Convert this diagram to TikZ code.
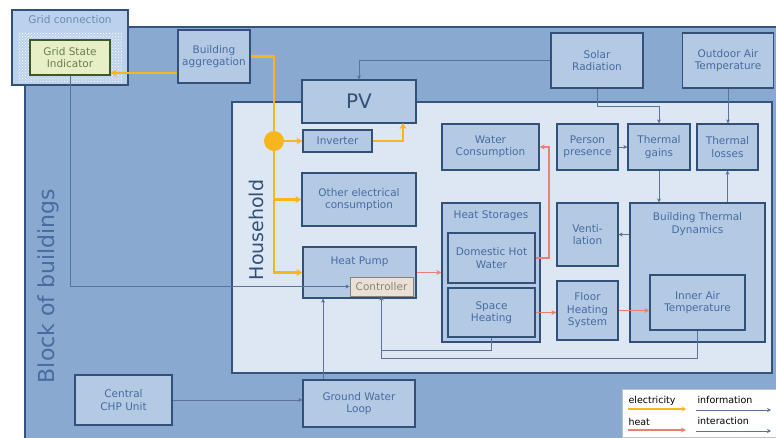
\documentclass[tikz,border=0pt]{standalone}
\usepackage{fontspec}
\setmainfont{DejaVu Sans}
\usetikzlibrary{arrows.meta,patterns}

\begin{document}
\begin{tikzpicture}[x=1pt, y=-1pt,
		every node/.style={font=\fontsize{10.5}{12.5}\selectfont, text=boxtext, align=center},
		blk/.style={draw=boxline, fill=boxfill, line width=1.3pt, inner sep=1pt},
		elec/.style={draw=elecline, line width=2.4pt, -{Stealth[length=6pt,width=7pt]}},
		heat/.style={draw=heatline, line width=1.3pt, -{Stealth[length=5pt,width=5pt]}},
		info/.style={draw=infoline, line width=0.8pt, -{Stealth[length=4pt,width=4pt,fill=infotip]}}]
		% Define colors
		\definecolor{blockfill}{RGB}{138, 169, 209}
		\definecolor{blockline}{RGB}{52, 84, 128}
		\definecolor{housefill}{RGB}{221, 231, 243}
		\definecolor{boxfill}{RGB}{180, 201, 228}
		\definecolor{boxline}{RGB}{50, 80, 120}
		\definecolor{boxtext}{RGB}{70, 108, 160}
		\definecolor{gridfill}{RGB}{188, 210, 236}
		\definecolor{gsifill}{RGB}{230, 239, 198}
		\definecolor{gsiline}{RGB}{60, 88, 44}
		\definecolor{gsitext}{RGB}{110, 124, 80}
		\definecolor{ctrlfill}{RGB}{233, 224, 214}
		\definecolor{ctrltext}{RGB}{140, 130, 122}
		\definecolor{elecline}{RGB}{247, 182, 30}
		\definecolor{heatline}{RGB}{232, 128, 118}
		\definecolor{infoline}{RGB}{90, 115, 150}
		\definecolor{infotip}{RGB}{45, 60, 80}
		
		\useasboundingbox (0,0) rectangle (776,437);
		
		% ===== BACKGROUND AREAS =====
		% Block of buildings
		\draw[fill=blockfill, draw=blockline, line width=1.2pt] (25, 27) rectangle (780, 440);
		\node[rotate=90, font=\fontsize{22}{25}\selectfont] (blocklbl) at (48, 286) {Block of buildings};
		
		% Household
		\draw[fill=housefill, draw=blockline, line width=1.2pt] (232, 102) rectangle (772, 373);
		\node[rotate=90, font=\fontsize{19}{22}\selectfont, text=boxline] (houselbl) at (256, 230) {Household};
		
		% Grid connection
		\draw[fill=gridfill, draw=boxline, line width=1.6pt] (12, 10) rectangle (128, 85);
		\node[text=boxtext!80] (gridlbl) at (70, 20) {Grid connection};
		\fill[pattern=crosshatch dots, pattern color=white] (18, 32) rectangle (122, 81);
		\node[draw=gsiline, fill=gsifill, line width=1.3pt, text=gsitext, minimum width=80pt, minimum height=35pt, inner sep=1pt] (gsi) at (70, 57.5) {Grid State\\Indicator};
		
		% ===== BOXES =====
		\node[blk, minimum width=72pt, minimum height=53pt] (aggr) at (214, 56.5) {Building\\aggregation};
		\node[blk, minimum width=92pt, minimum height=55pt] (solar) at (597, 60.5) {Solar\\Radiation};
		\node[blk, minimum width=91pt, minimum height=55pt] (outdoor) at (728, 60.5) {Outdoor Air\\Temperature};
		
		\node[blk, minimum width=114pt, minimum height=43pt, font=\fontsize{20}{22}\selectfont, text=boxline] (pv) at (359, 101.5) {PV};
		\node[blk, minimum width=69pt, minimum height=22pt] (inv) at (337.5, 141) {Inverter};
		\node[blk, minimum width=114pt, minimum height=53pt] (other) at (359, 199.5) {Other electrical\\consumption};
		\node[blk, minimum width=113pt, minimum height=51pt, label={[anchor=north, yshift=-7pt]north:Heat Pump}] (hp) at (359.5, 272.5) {};
		\node[draw=ctrltext, fill=ctrlfill, line width=0.8pt, text=ctrltext, minimum width=63pt, minimum height=19pt, inner sep=0pt] (ctrl) at (381.5, 286.5) {Controller};
		
		\node[blk, minimum width=97pt, minimum height=46pt] (water) at (490.5, 147) {Water\\Consumption};
		\node[blk, minimum width=61pt, minimum height=46pt] (person) at (587.5, 147) {Person\\presence};
		\node[blk, minimum width=62pt, minimum height=46pt] (gains) at (659, 147) {Thermal\\gains};
		\node[blk, minimum width=61pt, minimum height=46pt] (losses) at (727.5, 147) {Thermal\\losses};
		
		\node[blk, minimum width=98pt, minimum height=139pt, label={[anchor=north, yshift=-5pt]north:Heat Storages}] (storage) at (491, 272.5) {};
		\node[blk, minimum width=87pt, minimum height=50pt] (dhw) at (491.5, 258) {Domestic Hot\\Water};
		\node[blk, minimum width=87pt, minimum height=49pt] (sh) at (491.5, 312.5) {Space\\Heating};
		\node[blk, minimum width=61pt, minimum height=63pt] (vent) at (587.5, 234.5) {Venti-\\lation};
		\node[blk, minimum width=61pt, minimum height=59pt] (floor) at (587.5, 310.5) {Floor\\Heating\\System};
		\node[blk, minimum width=135pt, minimum height=139pt, label={[anchor=north, yshift=-7pt]north:Building Thermal\\Dynamics}] (btd) at (697.5, 272.5) {};
		\node[blk, minimum width=95pt, minimum height=55pt] (iat) at (697.5, 302.5) {Inner Air\\Temperature};
		
		\node[blk, minimum width=97pt, minimum height=50pt] (chp) at (123.5, 400) {Central\\CHP Unit};
		\node[blk, minimum width=112pt, minimum height=47pt] (gwl) at (359, 403.5) {Ground Water\\Loop};
		
		% ===== ELECTRICITY =====
		\node[circle, fill=elecline, minimum size=20pt, inner sep=0pt] (junc) at (274, 141) {};
		\coordinate (pvin) at (403, 123);
		\draw[elec] (aggr.west |- 0, 73) -- (gsi.east |- 0, 73);
		\draw[elec, -] (aggr.east) -| (junc);
		\draw[elec] (junc) -- (inv.west);
		\draw[elec] (inv.east) -| (pvin);
		\draw[elec] (junc) |- (hp.west);
		\draw[elec] (junc |- other.west) -- (other.west);
		
		% ===== HEAT =====
		\coordinate (hk) at (549, 200);
		\draw[heat] (hp.east) -- (storage.west);
		\draw[heat] (dhw.east) -- (dhw.east -| hk) -- (water.east -| hk) -- (water.east);
		\draw[heat] (sh.east) -- (sh.east -| floor.west);
		\draw[heat] (floor.east) -- (floor.east -| iat.west);
		
		% ===== INFORMATION =====
		\draw[info] (solar.west) -| (pv.north);
		\draw[info] (solar.south) -- ++(0, 18) -| (gains.north);
		\draw[info] (outdoor.south) -- (outdoor.south |- losses.north);
		\draw[info] (person.east) -- (gains.west);
		\draw[info] (gains.south) -- (gains.south |- btd.north);
		\draw[info] (btd.north -| losses.south) -- (losses.south);
		\draw[info] (vent.east -| btd.west) -- (vent.east);
		\draw[info] (gsi.south) |- (ctrl.west);
		\draw[info] ([xshift=-36pt]gwl.north) -- ([xshift=-36pt]gwl.north |- hp.south);
		\draw[info] (sh.south) -- ++(0, 13) -| (ctrl.south);
		\draw[info] (iat.south) -- ++(0, 28) -| (ctrl.south);
		\draw[info] (chp.east) -- (chp.east -| gwl.west);
		
		% ===== LEGEND =====
		\draw[fill=white, draw=gray!50] (622, 389) rectangle (776, 437);
		\node[text=black, anchor=west, font=\fontsize{9.5}{11}\selectfont] (lgelec) at (625, 401) {electricity};
		\node[text=black, anchor=west, font=\fontsize{9.5}{11}\selectfont] (lgheat) at (625, 422) {heat};
		\node[text=black, anchor=west, font=\fontsize{9.5}{11}\selectfont] (lginfo) at (694, 400) {information};
		\node[text=black, anchor=west, font=\fontsize{9.5}{11}\selectfont] (lginter) at (694, 421) {interaction};
		\coordinate (e1) at (628, 409); \coordinate (e2) at (686, 409);
		\coordinate (h1) at (628, 430); \coordinate (h2) at (686, 430);
		\coordinate (i1) at (696, 410); \coordinate (i2) at (771, 410);
		\coordinate (n1) at (696, 431); \coordinate (n2) at (771, 431);
		\draw[elec, line width=1.6pt, -{Stealth[length=4pt,width=5pt]}] (e1) -- (e2);
		\draw[heat] (h1) -- (h2);
		\draw[info] (i1) -- (i2);
		\draw[info] (n1) -- (n2);
		
	\end{tikzpicture}
\end{document}
